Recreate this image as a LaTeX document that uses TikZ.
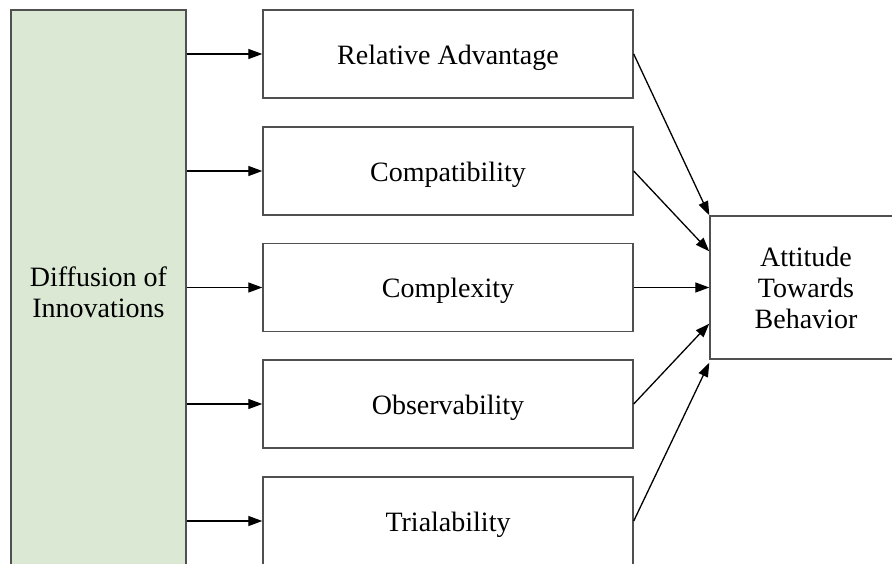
\documentclass[tikz,border=0pt]{standalone}
\usepackage{fontspec}
\setmainfont{Liberation Serif}
\usetikzlibrary{arrows.meta,calc}
\definecolor{boxgreen}{HTML}{DAE8D4}
\definecolor{boxline}{HTML}{505050}
\begin{document}
\begin{tikzpicture}[x=1pt,y=-1pt,
  box/.style={draw=boxline,line width=1.4pt,rectangle,align=center,
    inner sep=0pt,font=\fontsize{28}{31}\selectfont},
  factor/.style={box,fill=white,minimum width=370pt,minimum height=88pt,
    text height=22pt,text depth=2pt},
  link/.style={draw=black,line width=1.3pt,-{Triangle[length=14pt,width=10pt]}}]
\useasboundingbox (0,0) rectangle (892,563);
\clip (0,0) rectangle (892,563);
\fill[white] (0,0) rectangle (892,563);

% source construct
\node[box,fill=boxgreen,minimum width=175pt,minimum height=564pt] (dif) at (98.5,292)
  {Diffusion of\\Innovations};

% the five attributes
\node[factor] (r1) at (448,54)    {Relative Advantage};
\node[factor] (r2) at (448,171)   {Compatibility};
\node[factor] (r3) at (448,287.5) {Complexity};
\node[factor] (r4) at (448,404)   {Observability};
\node[factor] (r5) at (448,521)   {Trialability};

% outcome
\node[box,fill=white,minimum width=192pt,minimum height=143pt] (att) at (806,287.5)
  {Attitude\\Towards\\Behavior};

% left-hand arrows
\foreach \r in {r1,r2,r3,r4,r5}
  \draw[link] (dif.east |- \r.west) -- (\r.west);

% right-hand arrows
\draw[link] (r1.east) -- (att.north west);
\draw[link] (r2.east) -- ($(att.north west)!0.25!(att.south west)$);
\draw[link] (r3.east) -- (att.west);
\draw[link] (r4.east) -- ($(att.north west)!0.75!(att.south west)$);
\draw[link] (r5.east) -- ($(att.south west)+(0,3)$);
\end{tikzpicture}
\end{document}
